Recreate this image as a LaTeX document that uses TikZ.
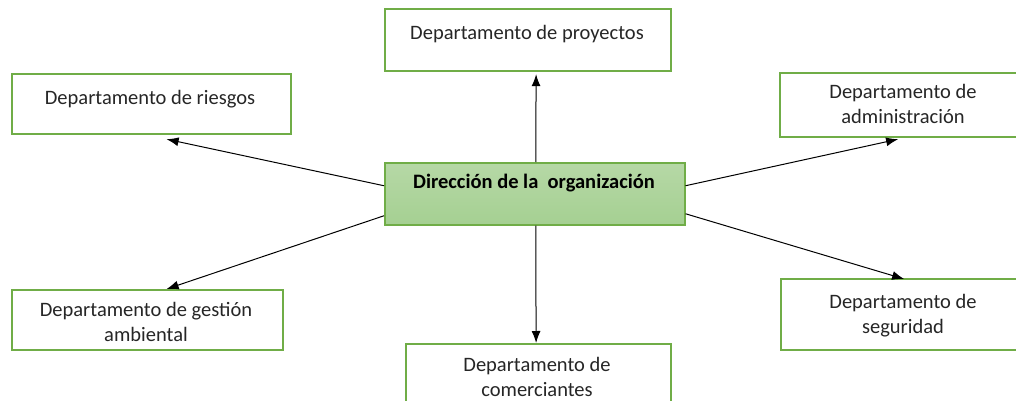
\documentclass[tikz,border=0pt]{standalone}
\usepackage{fontspec}
\setmainfont{Carlito}
\usetikzlibrary{arrows.meta}
\definecolor{gborder}{RGB}{112,173,71}
\definecolor{gtop}{RGB}{182,216,166}
\definecolor{gbot}{RGB}{165,208,146}
\definecolor{txt}{RGB}{38,38,38}
\tikzset{
  dept/.style={draw=gborder, line width=2.2pt, fill=white, inner sep=0pt},
  lbl/.style={font=\fontsize{20.5}{25}\selectfont, text=txt, align=center, inner sep=0pt, anchor=base},
  conn/.style={line width=1pt, -{Latex[length=12pt,width=9pt]}}
}
\begin{document}
\begin{tikzpicture}[x=1pt,y=-1pt]
\useasboundingbox (0,0) rectangle (1016,401);
% boxes
\node[dept, minimum width=286pt, minimum height=62pt, anchor=north west] (p) at (384,8) {};
\node[dept, minimum width=279pt, minimum height=60pt, anchor=north west] (r) at (11,73) {};
\node[dept, minimum width=255pt, minimum height=64pt, anchor=north west] (a) at (779,72) {};
\node[dept, minimum width=271pt, minimum height=60pt, anchor=north west] (g) at (11,289) {};
\node[dept, minimum width=255pt, minimum height=71pt, anchor=north west] (s) at (780,278) {};
\node[dept, minimum width=265pt, minimum height=75pt, anchor=north west] (m) at (405,343) {};
\node[draw=gborder, line width=1.5pt, top color=gtop, bottom color=gbot, inner sep=0pt,
      minimum width=300pt, minimum height=62pt, anchor=north west] (c) at (384,162) {};
% labels (base anchor = baseline of last line)
\node[lbl] (pt) at (527,40) {Departamento de proyectos};
\node[lbl] (rt) at (150,105) {Departamento de riesgos};
\node[lbl] (at) at (903,124) {Departamento de\\administración};
\node[lbl] (gt) at (146,341) {Departamento de gestión\\ambiental};
\node[lbl] (st) at (903,333) {Departamento de\\seguridad};
\node[lbl] (mt) at (537,396) {Departamento de\\comerciantes};
\node[lbl, font=\fontsize{20.5}{25}\selectfont\bfseries, text=black] (ct) at (534,188) {Dirección de la\ \ organización};
% connectors
\draw[conn] ([xshift=1pt]c.north) -- ([xshift=8pt,yshift=-2pt]p.south);
\draw[conn] ([yshift=8pt]c.west) -- ([xshift=15pt,yshift=-4pt]r.south);
\draw[conn] ([yshift=-22pt]c.west) -- ([xshift=19pt]g.north);
\draw[conn] ([yshift=8pt]c.east) -- ([xshift=-9.5pt,yshift=-1pt]a.south);
\draw[conn] ([yshift=-20pt]c.east) -- ([xshift=-4.5pt,yshift=-1pt]s.north);
\draw[conn] ([xshift=1pt]c.south) -- ([xshift=-2.5pt]m.north);
\end{tikzpicture}
\end{document}
